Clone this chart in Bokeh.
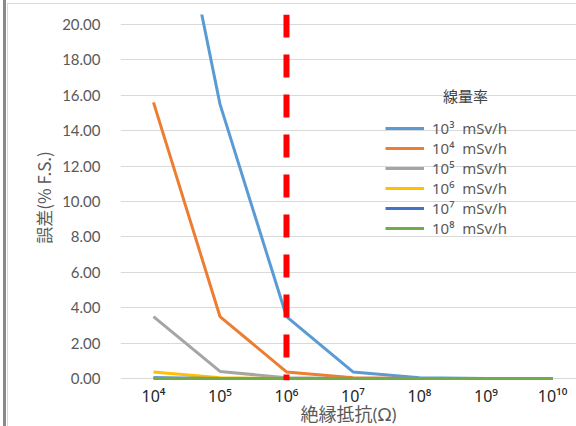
import numpy as np
from bokeh.plotting import figure
from bokeh.models import Range1d, FixedTicker, Span, Legend, LegendItem, Label, PrintfTickFormatter
from bokeh.embed import file_html
from bokeh.resources import INLINE

# ---- data ----
resistance = [1e4, 1e5, 1e6, 1e7, 1e8, 1e9, 1e10]          # 絶縁抵抗 (Ω)
x_tick_labels = ["10⁴", "10⁵", "10⁶", "10⁷", "10⁸", "10⁹", "10¹⁰"]
series_labels = ["10³  mSv/h", "10⁴  mSv/h", "10⁵  mSv/h",
                 "10⁶  mSv/h", "10⁷  mSv/h", "10⁸  mSv/h"]
err_1e3 = [34.0, 15.5, 3.5, 0.37, 0.04, 0.0, 0.0]
err_1e4 = [15.6, 3.5, 0.37, 0.04, 0.0, 0.0, 0.0]
err_1e5 = [3.5, 0.4, 0.04, 0.0, 0.0, 0.0, 0.0]
err_1e6 = [0.37, 0.04, 0.0, 0.0, 0.0, 0.0, 0.0]
err_1e7 = [0.04, 0.0, 0.0, 0.0, 0.0, 0.0, 0.0]
err_1e8 = [0.0, 0.0, 0.0, 0.0, 0.0, 0.0, 0.0]
threshold_resistance = 1e6
y_ticks = [0, 2, 4, 6, 8, 10, 12, 14, 16, 18, 20]

series = [err_1e3, err_1e4, err_1e5, err_1e6, err_1e7, err_1e8]
colors = ["#5B9BD5", "#ED7D31", "#A5A5A5", "#FFC000", "#4472C4", "#70AD47"]

x = np.log10(resistance)

p = figure(frame_width=456, frame_height=366, output_backend="svg", toolbar_location=None,
           x_range=Range1d(3.504, 10.361), y_range=Range1d(-0.113, 20.565),
           min_border_left=120, min_border_right=0, min_border_top=14, min_border_bottom=0)
p.border_fill_color = None
p.background_fill_color = None
p.outline_line_color = None
p.styles = {"box-shadow": "inset 3px 0 0 #ffffff, inset 6px 0 0 #8a8a8a, inset 7px 0 0 #ffffff, "
                          "inset 0 3px 0 #ffffff, inset 8px 0 0 #d9d9d9, inset 0 4px 0 #d9d9d9"}

renderers = []
for vals, c in zip(series, colors):
    r = p.line(x, vals, line_color=c, line_width=3)
    renderers.append(r)

# threshold
p.add_layout(Span(location=np.log10(threshold_resistance), dimension="height",
                  line_color="#FF0000", line_width=6, line_dash="23 17"))

# axes
p.xgrid.visible = False
p.ygrid.grid_line_color = "#d9d9d9"
p.ygrid.ticker = FixedTicker(ticks=y_ticks)

xa = p.xaxis[0]
xa.ticker = FixedTicker(ticks=list(x))
xa.major_label_overrides = {float(v): lab for v, lab in zip(x, x_tick_labels)}
xa.axis_line_color = None
xa.major_tick_line_color = None
xa.minor_tick_line_color = None
xa.major_tick_out = 0
xa.major_label_standoff = 4
xa.major_label_text_font = "Noto Sans"
xa.major_label_text_font_size = "16px"
xa.major_label_text_color = "#262626"
xa.axis_label = "絶縁抵抗(Ω)"
xa.axis_label_text_font = "Lato, 'Noto Sans CJK JP'"
xa.axis_label_text_font_size = "18px"
xa.axis_label_text_font_style = "normal"
xa.axis_label_text_color = "#595959"
xa.axis_label_standoff = -7

ya = p.yaxis[0]
ya.ticker = FixedTicker(ticks=y_ticks)
ya.formatter = PrintfTickFormatter(format="%.2f")
ya.axis_line_color = None
ya.major_tick_line_color = None
ya.minor_tick_line_color = None
ya.major_tick_out = 0
ya.major_label_standoff = 20
ya.major_label_text_font = "Lato"
ya.major_label_text_font_size = "15px"
ya.major_label_text_color = "#595959"
ya.axis_label = "誤差(% F.S.)"
ya.axis_label_text_font = "Noto Sans CJK JP"
ya.axis_label_text_font_size = "17px"
ya.axis_label_text_font_style = "normal"
ya.axis_label_text_color = "#595959"
ya.axis_label_standoff = 3

legend = Legend(items=[LegendItem(label=l, renderers=[r]) for l, r in zip(series_labels, renderers)],
                location=(265, 142), glyph_width=39, glyph_height=20, label_height=20,
                label_standoff=8, spacing=0, padding=0, margin=0,
                background_fill_alpha=0, border_line_alpha=0,
                label_text_font="Noto Sans", label_text_font_size="15px", label_text_color="#595959")
p.add_layout(legend)

p.add_layout(Label(x=345, y=285, x_units="screen", y_units="screen", text="線量率",
                   text_align="center", text_baseline="middle",
                   text_font="Noto Sans CJK JP", text_font_size="15px", text_color="#404040"))

open("out.html", "w").write(file_html(p, INLINE))
